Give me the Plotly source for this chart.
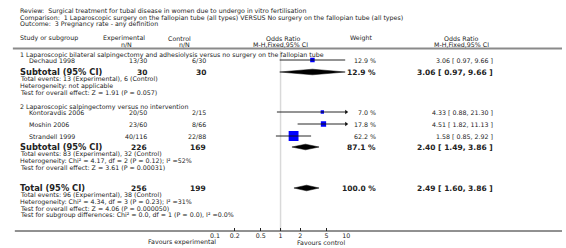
import plotly.graph_objects as go
import math

# ---------------- data ----------------
title_lines = [
    "Review:  Surgical treatment for tubal disease in women due to undergo in vitro fertilisation",
    "Comparison:  1 Laparoscopic surgery on the fallopian tube (all types) VERSUS No surgery on the fallopian tube (all types)",
    "Outcome:  3 Pregnancy rate - any definition",
]
subgroup_names = [
    "1 Laparoscopic bilateral salpingectomy and adhesiolysis versus no surgery on the fallopian tube",
    "2 Laparoscopic salpingectomy versus no intervention",
]
studies = ["Dechaud 1998", "Kontoravdis 2006", "Moshin 2006", "Strandell 1999"]
exp_events = [13, 20, 23, 40]
exp_total = [30, 50, 60, 116]
ctl_events = [6, 2, 8, 22]
ctl_total = [30, 15, 66, 88]
odds_ratio = [3.06, 4.33, 4.51, 1.58]
ci_low = [0.97, 0.88, 1.82, 0.85]
ci_high = [9.66, 21.30, 11.13, 2.92]
weights = [12.9, 7.0, 17.8, 62.2]

pooled_labels = ["Subtotal (95% CI)", "Subtotal (95% CI)", "Total (95% CI)"]
pooled_exp_n = [30, 226, 256]
pooled_ctl_n = [30, 169, 199]
pooled_or = [3.06, 2.40, 2.49]
pooled_low = [0.97, 1.49, 1.60]
pooled_high = [9.66, 3.86, 3.86]
pooled_weight = [12.9, 87.1, 100.0]
pooled_notes = [
    ["Total events: 13 (Experimental), 6 (Control)",
     "Heterogeneity: not applicable",
     "Test for overall effect: Z = 1.91 (P = 0.057)"],
    ["Total events: 83 (Experimental), 32 (Control)",
     "Heterogeneity: Chi² = 4.17, df = 2 (P = 0.12); I² =52%",
     "Test for overall effect: Z = 3.61 (P = 0.00031)"],
    ["Total events: 96 (Experimental), 38 (Control)",
     "Heterogeneity: Chi² = 4.34, df = 3 (P = 0.23); I² =31%",
     "Test for overall effect: Z = 4.06 (P = 0.000050)",
     "Test for subgroup differences: Chi² = 0.0, df = 1 (P = 0.0), I² =0.0%"],
]
tick_vals = [0.1, 0.2, 0.5, 1, 2, 5, 10]
tick_text = ["0.1", "0.2", "0.5", "1", "2", "5", "10"]
favours = ["Favours experimental", "Favours control"]

# ---------------- layout (pixels) ----------------
W, H = 566, 248
FONT = "DejaVu Sans"
TXT = "#222222"
SMALL = 6.3
BIG_LABEL = 8.3
BIG_NUM = 7.5
AX_LO, AX_HI = 213.3, 346.7
AXIS_Y = 231

title_y = [11, 17.5, 24]
group_y = [55, 106.5]
study_y = [60, 112, 124, 136]
pooled_y = [72, 147, 188]
note_dy = 6.6

X_NAME_GROUP = 13
X_NAME_STUDY = 22
X_EXP = 146
X_CTL = 206
X_WEIGHT = 379
X_CI = 498

fig = go.Figure()
ann = []


def txt(x, y, s, anchor="left", size=SMALL, bold=False):
    ann.append(dict(x=x, y=y, xref="x", yref="y", text=("<b>%s</b>" % s) if bold else s,
                    showarrow=False, xanchor=anchor, yanchor="middle",
                    font=dict(family=FONT, size=size, color=TXT)))


for t, y in zip(title_lines, title_y):
    txt(X_NAME_GROUP, y, t)

# header
txt(X_NAME_GROUP, 38, "Study or subgroup")
txt(121, 38, "Experimental", "center")
txt(123, 44, "n/N", "center")
txt(177, 38, "Control", "center")
txt(182, 44, "n/N", "center")
txt(283, 38, "Odds Ratio", "center")
txt(280, 44, "M-H,Fixed,95% CI", "center")
txt(349, 38, "Weight")
txt(464, 38, "Odds Ratio", "center")
txt(464, 44, "M-H,Fixed,95% CI", "center")

for g, y in zip(subgroup_names, group_y):
    txt(X_NAME_GROUP, y, g)

for i, s in enumerate(studies):
    y = study_y[i]
    txt(X_NAME_STUDY, y, s)
    txt(X_EXP, y, "%d/%d" % (exp_events[i], exp_total[i]), "right")
    txt(X_CTL, y, "%d/%d" % (ctl_events[i], ctl_total[i]), "right")
    txt(X_WEIGHT, y, "%.1f %%" % weights[i], "right")
    txt(X_CI, y, "%.2f [ %.2f, %.2f ]" % (odds_ratio[i], ci_low[i], ci_high[i]), "right")

for j, lab in enumerate(pooled_labels):
    y = pooled_y[j]
    txt(X_NAME_GROUP, y, lab, size=BIG_LABEL, bold=True)
    txt(X_EXP, y, str(pooled_exp_n[j]), "right", size=BIG_NUM, bold=True)
    txt(X_CTL, y, str(pooled_ctl_n[j]), "right", size=BIG_NUM, bold=True)
    txt(X_WEIGHT, y, "%.1f %%" % pooled_weight[j], "right", size=BIG_NUM, bold=True)
    txt(X_CI, y, "%.2f [ %.2f, %.2f ]" % (pooled_or[j], pooled_low[j], pooled_high[j]),
        "right", size=BIG_NUM, bold=True)
    for k, note in enumerate(pooled_notes[j]):
        txt(X_NAME_GROUP, y + 7 + k * note_dy, note)

txt(180, 242, favours[0], "center")
txt(321, 242, favours[1], "center")

# ---------------- forest marks (log axis x2) ----------------
lo_lim, hi_lim = tick_vals[0], tick_vals[-1]
for i in range(len(studies)):
    y = study_y[i]
    side = 1.25 * math.sqrt(weights[i])
    fig.add_trace(go.Scatter(x=[odds_ratio[i]], y=[y], xaxis="x2", yaxis="y", mode="markers",
                             marker=dict(symbol="square", size=side, color="#0000FF",
                                         line=dict(width=0)),
                             hoverinfo="skip", showlegend=False))
    x0 = max(ci_low[i], lo_lim)
    x1 = min(ci_high[i], hi_lim)
    fig.add_trace(go.Scatter(x=[x0, x1], y=[y, y], xaxis="x2", yaxis="y", mode="lines",
                             line=dict(color="#111111", width=0.9),
                             hoverinfo="skip", showlegend=False, cliponaxis=False))
    if ci_high[i] > hi_lim:
        fig.add_trace(go.Scatter(x=[hi_lim], y=[y], xaxis="x2", yaxis="y", mode="markers",
                                 marker=dict(symbol="triangle-right", size=4, color="#111111"),
                                 hoverinfo="skip", showlegend=False, cliponaxis=False))

for j in range(len(pooled_labels)):
    y = pooled_y[j]
    h = 2.8
    fig.add_trace(go.Scatter(
        x=[pooled_low[j], pooled_or[j], pooled_high[j], pooled_or[j], pooled_low[j]],
        y=[y, y - h, y, y + h, y], xaxis="x2", yaxis="y", mode="lines",
        fill="toself", fillcolor="#000000", line=dict(color="#000000", width=0.5),
        hoverinfo="skip", showlegend=False, cliponaxis=False))

# ---------------- lines ----------------
shapes = [
    dict(type="line", xref="x", yref="y", x0=8, x1=566, y0=48.5, y1=48.5,
         line=dict(color="#8a8a8a", width=2)),
    dict(type="line", xref="x", yref="y", x0=280, x1=280, y0=51, y1=AXIS_Y,
         line=dict(color="#d9d9d9", width=1.5), layer="below"),
    dict(type="line", xref="x", yref="y", x0=10, x1=566, y0=AXIS_Y, y1=AXIS_Y,
         line=dict(color="#222222", width=1)),
]

fig.update_layout(
    width=W, height=H,
    margin=dict(l=0, r=0, t=0, b=0),
    paper_bgcolor="white", plot_bgcolor="rgba(0,0,0,0)",
    showlegend=False,
    xaxis=dict(range=[0, W], domain=[0, 1], visible=False, fixedrange=True),
    yaxis=dict(range=[H, 0], domain=[0, 1], visible=False, fixedrange=True),
    xaxis2=dict(type="log", range=[math.log10(lo_lim), math.log10(hi_lim)],
                domain=[AX_LO / W, AX_HI / W], anchor="free",
                position=(H - AXIS_Y) / H,
                tickvals=tick_vals, ticktext=tick_text,
                ticks="inside", ticklen=3, tickwidth=1, tickcolor="#222222",
                showline=False, showgrid=False, zeroline=False,
                tickfont=dict(family=FONT, size=SMALL, color=TXT), fixedrange=True),
    annotations=ann,
    shapes=shapes,
)

fig.write_html("out.html", config={"displayModeBar": False},
               post_script="document.body.style.margin='0';document.body.style.overflow='hidden';")
